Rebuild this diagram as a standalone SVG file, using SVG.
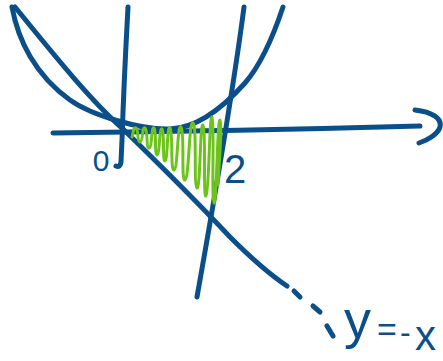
<svg xmlns="http://www.w3.org/2000/svg" width="443" height="361" viewBox="0 0 443 361">
<style>
.ink{fill:none;stroke:#0a4f8a;stroke-width:5;stroke-linecap:round;stroke-linejoin:round}
.hatch{fill:none;stroke:#6cc41a;stroke-width:3;stroke-linecap:round;stroke-linejoin:round}
.lbl{fill:#0a4f8a;font-family:"Liberation Sans",Arial,sans-serif}
</style>
<rect width="443" height="361" fill="#ffffff"/>
<g id="axes">
<path class="ink" d="M53,133 Q240,131 420,126"/>
<path class="ink" d="M415,110 C432,112 442,118 440,127 C438,134 428,140 419,143"/>
<path class="ink" d="M128,7 Q124,80 122,140 L121,162 Q120,168 116,166"/>
</g>
<g id="curves">
<path id="parabola" class="ink" d="M12,7 C18,40 35,75 70,100 C91,115 140,130 170,129 C200,128 228,102 245,83 C258,68 272,40 283,7"/>
<path id="line-y-neg-x" class="ink" d="M15,7 C50,50 90,100 122,128 C160,165 200,205 230,237 C255,262 275,278 287,286"/>
<path class="ink" d="M294,291 L300,297 M313,306 L320,312 M327,326 L333,336"/>
<path id="line-x2" class="ink" d="M244,7 Q232,100 197,297"/>
</g>
<g id="area">
<path class="hatch" d="M132,137 C133.4,133.8 133.2,126.3 136,128 C138.8,129.8 136.9,142 140,142 C143.2,142 141.9,125.9 145,128 C148.2,130.1 145.9,148 149,148 C152.2,148 151.2,125.6 154,128 C156.8,130.5 154.2,154.7 157,155 C159.8,155.4 159.2,126.9 162,129 C164.8,131.1 162.2,161.4 165,161 C167.8,160.7 166.9,124.9 170,128 C173.2,131.2 170.2,170.4 174,170 C177.9,169.7 177.2,123.5 181,127 C184.9,130.5 180.8,181.4 185,180 C189.2,178.6 188.8,120.2 193,123 C197.2,125.8 193.5,187.3 197,188 C200.5,188.7 199.9,122.2 203,125 C206.2,127.8 202.9,198.8 206,196 C209.2,193.2 209.2,114.6 212,117 C214.8,119.5 211.2,202 214,203 C216.8,204.1 217.2,119.3 220,120 C222.8,120.7 218,179 218,185"/>
</g>
<g id="labels">
<text class="lbl" x="101" y="171" font-size="30" text-anchor="middle">0</text>
<text class="lbl" x="235" y="183" font-size="40" text-anchor="middle">2</text>
<text class="lbl" y="338"><tspan x="344" font-size="54">y</tspan><tspan x="377" y="341" font-size="34">=</tspan><tspan x="400" y="343" font-size="32">-</tspan><tspan x="415" y="350" font-size="42">x</tspan></text>
</g>
</svg>
